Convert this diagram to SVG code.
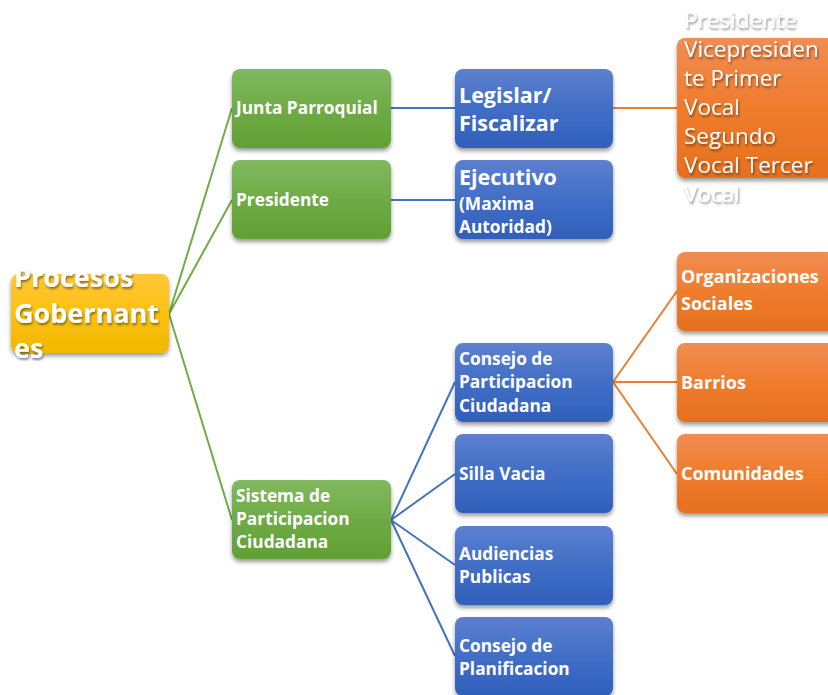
<svg xmlns="http://www.w3.org/2000/svg" width="828" height="695" viewBox="0 0 828 695">
<defs>
<linearGradient id="gG" x1="0" y1="0" x2="0" y2="1"><stop offset="0" stop-color="#81b95f"/><stop offset="0.5" stop-color="#6eab45"/><stop offset="1" stop-color="#62a034"/></linearGradient>
<linearGradient id="gB" x1="0" y1="0" x2="0" y2="1"><stop offset="0" stop-color="#5d80cf"/><stop offset="0.5" stop-color="#416ec6"/><stop offset="1" stop-color="#2f5fbb"/></linearGradient>
<linearGradient id="gO" x1="0" y1="0" x2="0" y2="1"><stop offset="0" stop-color="#f08d54"/><stop offset="0.5" stop-color="#f07c2c"/><stop offset="1" stop-color="#e4701f"/></linearGradient>
<linearGradient id="gY" x1="0" y1="0" x2="0" y2="1"><stop offset="0" stop-color="#ffc73a"/><stop offset="0.5" stop-color="#fdc10f"/><stop offset="1" stop-color="#f0b800"/></linearGradient>
<filter id="sh" x="-10%" y="-10%" width="130%" height="140%"><feGaussianBlur in="SourceAlpha" stdDeviation="2"/><feOffset dy="3" result="b"/><feComponentTransfer><feFuncA type="linear" slope="0.4"/></feComponentTransfer><feMerge><feMergeNode/><feMergeNode in="SourceGraphic"/></feMerge></filter>
<filter id="ts" x="-10%" y="-10%" width="130%" height="140%"><feGaussianBlur in="SourceAlpha" stdDeviation="1.2"/><feOffset dx="0.5" dy="1.5"/><feComponentTransfer><feFuncA type="linear" slope="0.45"/></feComponentTransfer><feMerge><feMergeNode/><feMergeNode in="SourceGraphic"/></feMerge></filter>
</defs>
<style>
.box{filter:url(#sh)}
.g{fill:url(#gG)} .b{fill:url(#gB)} .o{fill:url(#gO)} .y{fill:url(#gY)}
.t{font-family:"Open Sans","Liberation Sans",sans-serif;font-weight:bold;fill:#fff;font-size:17.3px}
.ot{font-size:18px}
.big{font-size:21.5px}
.root{font-size:27px;filter:url(#ts)}
.reg{font-family:"Open Sans","Liberation Sans",sans-serif;font-weight:normal;fill:#fff;font-size:22.5px;filter:url(#ts)}
.cg{stroke:#70ad47;stroke-width:2;fill:none}
.cb{stroke:#4472c4;stroke-width:2;fill:none}
.co{stroke:#ed7d31;stroke-width:2;fill:none}
</style>
<g id="connectors">
<path class="cg" d="M169,314 L232,108 M169,314 L232,200 M169,314 L232,520"/>
<path class="cb" d="M391,108 L455,108 M391,200 L455,200"/>
<path class="cb" d="M391,520 L455,382 M391,520 L455,474 M391,520 L455,565 M391,520 L455,656"/>
<path class="co" d="M613,108 L677,108"/>
<path class="co" d="M613,382 L677,291 M613,382 L677,382 M613,382 L677,474"/>
</g>
<g id="n-root"><rect class="box y" x="11" y="274" width="158" height="79" rx="8"/>
<text class="t root" x="14"><tspan x="14" y="287">Procesos</tspan><tspan x="14" y="323">Gobernant</tspan><tspan x="14" y="358">es</tspan></text></g>
<g id="n-junta"><rect class="box g" x="232" y="69" width="159" height="79" rx="8"/><text class="t" x="236" y="114">Junta Parroquial</text></g>
<g id="n-presidente"><rect class="box g" x="232" y="160" width="159" height="79" rx="8"/><text class="t" x="236" y="206">Presidente</text></g>
<g id="n-sistema"><rect class="box g" x="232" y="480" width="159" height="79" rx="8"/><text class="t"><tspan x="236" y="502">Sistema de</tspan><tspan x="236" y="525">Participacion</tspan><tspan x="236" y="548">Ciudadana</tspan></text></g>
<g id="n-legislar"><rect class="box b" x="455" y="69" width="158" height="79" rx="8"/><text class="t big"><tspan x="459" y="103">Legislar/</tspan><tspan x="459" y="131">Fiscalizar</tspan></text></g>
<g id="n-ejecutivo"><rect class="box b" x="455" y="160" width="158" height="79" rx="8"/><text class="t"><tspan class="big" x="459" y="185" font-size="22px">Ejecutivo</tspan><tspan x="459" y="210">(Maxima</tspan><tspan x="459" y="233">Autoridad)</tspan></text></g>
<g id="n-consejo-part"><rect class="box b" x="455" y="343" width="158" height="79" rx="8"/><text class="t"><tspan x="459" y="365">Consejo de</tspan><tspan x="459" y="388">Participacion</tspan><tspan x="459" y="412">Ciudadana</tspan></text></g>
<g id="n-silla"><rect class="box b" x="455" y="434" width="158" height="79" rx="8"/><text class="t" x="459" y="480">Silla Vacia</text></g>
<g id="n-audiencias"><rect class="box b" x="455" y="526" width="158" height="79" rx="8"/><text class="t"><tspan x="459" y="560">Audiencias</tspan><tspan x="459" y="583">Publicas</tspan></text></g>
<g id="n-consejo-plan"><rect class="box b" x="455" y="617" width="158" height="79" rx="8"/><text class="t"><tspan x="459" y="652">Consejo de</tspan><tspan x="459" y="675">Planificacion</tspan></text></g>
<g id="n-miembros"><rect class="box o" x="677" y="38" width="160" height="140" rx="8"/><text class="reg"><tspan x="684" y="28">Presidente</tspan><tspan x="684" y="57">Vicepresiden</tspan><tspan x="684" y="86">te Primer</tspan><tspan x="684" y="115">Vocal</tspan><tspan x="684" y="144">Segundo</tspan><tspan x="684" y="173">Vocal Tercer</tspan><tspan x="684" y="202">Vocal</tspan></text></g>
<g id="n-organizaciones"><rect class="box o" x="677" y="252" width="160" height="79" rx="8"/><text class="t ot"><tspan x="681" y="283">Organizaciones</tspan><tspan x="681" y="310">Sociales</tspan></text></g>
<g id="n-barrios"><rect class="box o" x="677" y="343" width="160" height="79" rx="8"/><text class="t ot" x="681" y="389">Barrios</text></g>
<g id="n-comunidades"><rect class="box o" x="677" y="434" width="160" height="79" rx="8"/><text class="t ot" x="681" y="480">Comunidades</text></g>
</svg>
